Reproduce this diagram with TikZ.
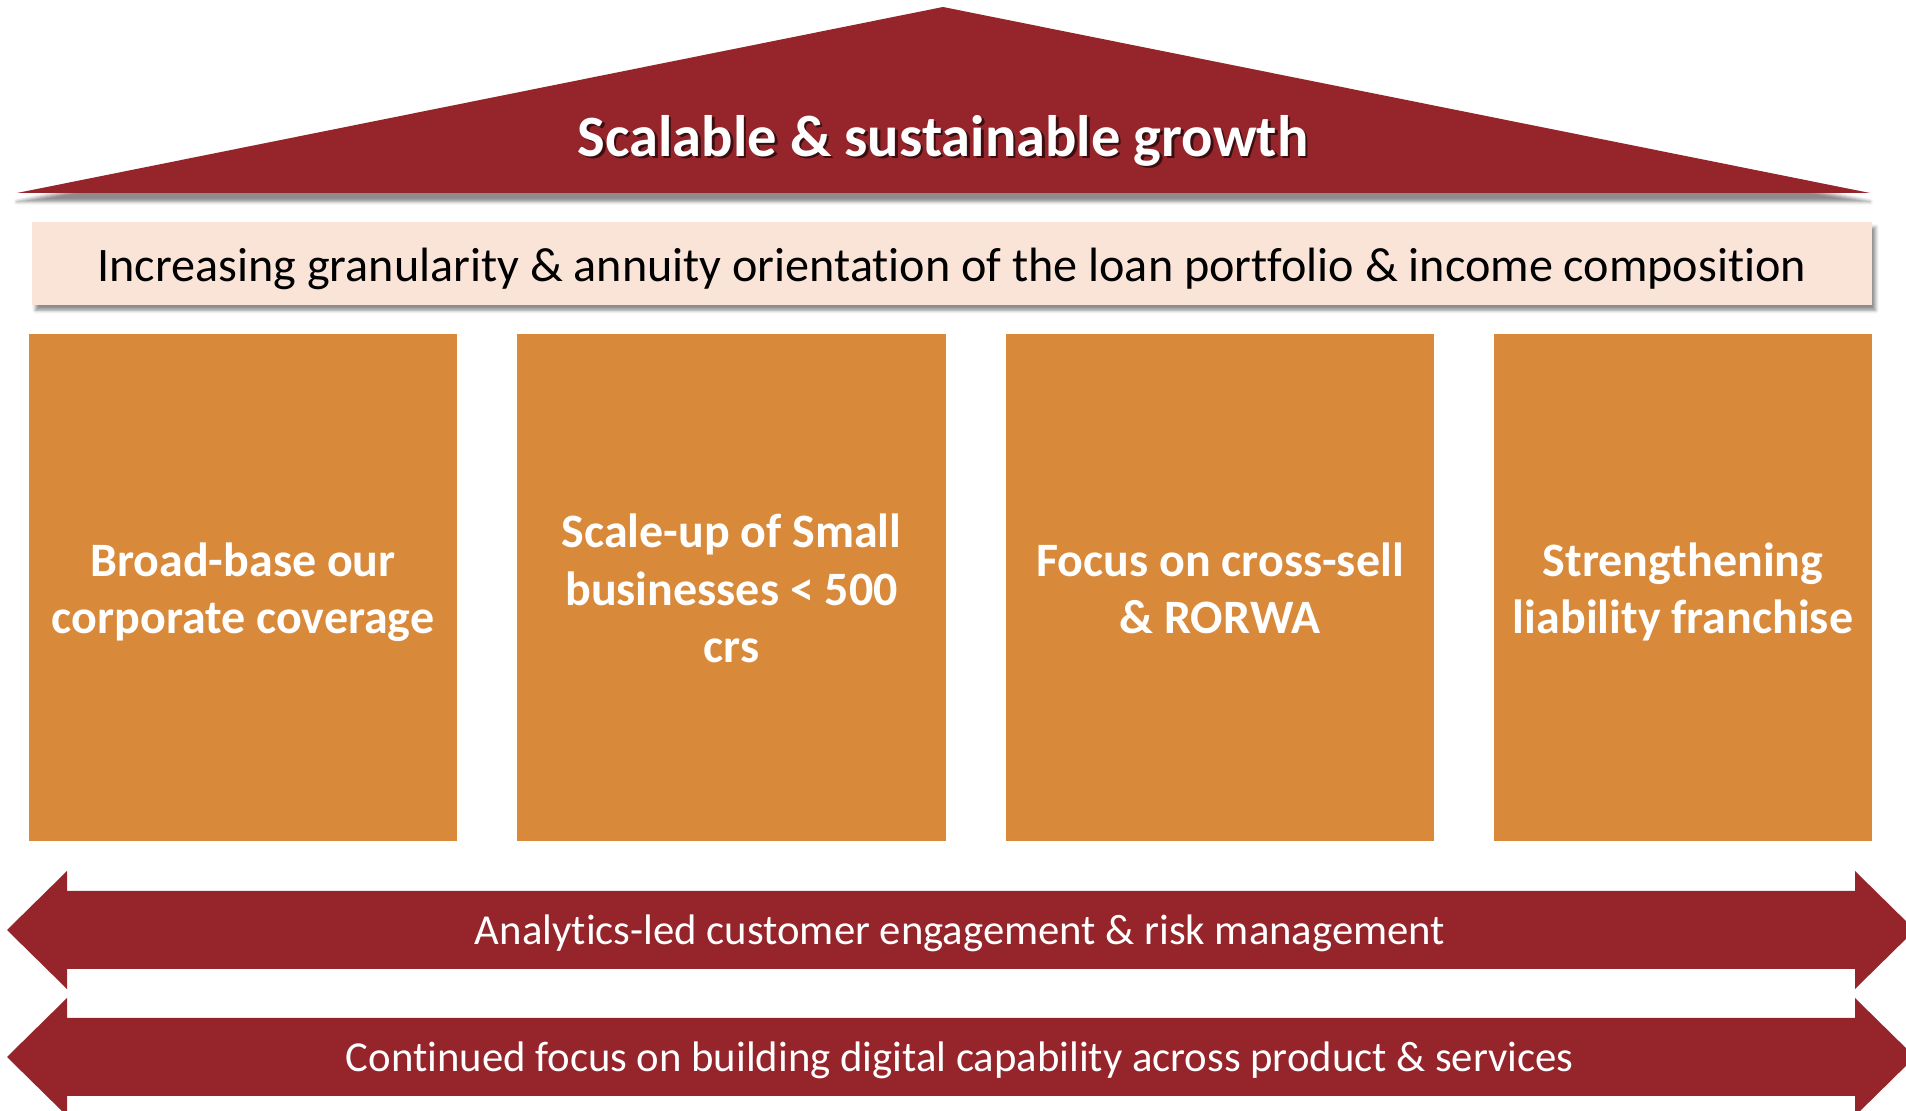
\documentclass[tikz,border=0pt]{standalone}
\usepackage{fontspec}
\setmainfont{Carlito}[Ligatures=NoCommon]
\usetikzlibrary{positioning,shadows.blur}
\definecolor{roofred}{RGB}{149,37,43}
\definecolor{pillarorange}{RGB}{216,137,58}
\definecolor{bandpink}{RGB}{250,228,216}
\tikzstyle{pillar} = [fill=pillarorange, minimum height=10.14cm, inner sep=0pt]
\tikzstyle{pillartext} = [text=white, font=\fontsize{27.3}{32.6}\selectfont\bfseries, align=center, inner sep=0pt]
\tikzstyle{arrowtext} = [text=white, font=\fontsize{24.3}{29}\selectfont]

\begin{document}
\begin{tikzpicture}
\useasboundingbox (0,0) rectangle (38.12,22.22);
% roof
\fill[roofred, blur shadow={shadow xshift=0pt, shadow yshift=-5pt, shadow opacity=45}] (0.34,18.36) -- (18.86,22.08) -- (37.4,18.36) -- cycle;
\node[text=black, opacity=0.6, font=\fontsize{33.3}{40}\selectfont\bfseries] (titleshade) at (18.91,19.36) {Scalable \& sustainable growth};
\node[text=white, font=\fontsize{33.3}{40}\selectfont\bfseries] (title) at (18.86,19.41) {Scalable \& sustainable growth};

% band under the roof
\node[fill=bandpink, minimum width=36.8cm, minimum height=1.66cm, inner sep=0pt, text height=20pt, text depth=0pt, font=\fontsize{27.4}{32}\selectfont, blur shadow={shadow xshift=2pt, shadow yshift=-3pt, shadow opacity=45}] (band) at (19.04,16.95) {Increasing granularity \& annuity orientation of the loan portfolio \& income composition};

% pillars
\node[pillar, minimum width=8.56cm] (broad) at (4.86,10.47) {};
\node[pillar, minimum width=8.58cm] (small) at (14.63,10.47) {};
\node[pillar, minimum width=8.56cm] (cross) at (24.40,10.47) {};
\node[pillar, minimum width=7.56cm] (liab) at (33.66,10.47) {};
\node[pillartext] (broadtext) at ([yshift=-3.5pt]broad.center) {\strut Broad-base our\\corporate coverage\strut};
\node[pillartext] (smalltext) at ([yshift=-3.5pt]small.center) {\strut Scale-up of Small\\businesses < 500\\crs\strut};
\node[pillartext] (crosstext) at ([yshift=-3.5pt]cross.center) {\strut Focus on cross-sell\\\& RORWA\strut};
\node[pillartext] (liabtext) at ([yshift=-3.5pt]liab.center) {\strut Strengthening\\liability franchise\strut};

% double arrows at the base
\fill[roofred] (0.14,3.62) -- (1.34,4.80) -- (1.34,4.40) -- (37.1,4.40) -- (37.1,4.80) -- (38.3,3.62) -- (37.1,2.44) -- (37.1,2.84) -- (1.34,2.84) -- (1.34,2.44) -- cycle;
\node[arrowtext] (analytics) at (19.2,3.55) {Analytics-led customer engagement \& risk management};
\fill[roofred] (0.14,1.08) -- (1.34,2.26) -- (1.34,1.86) -- (37.1,1.86) -- (37.1,2.26) -- (38.3,1.08) -- (37.1,-0.10) -- (37.1,0.30) -- (1.34,0.30) -- (1.34,-0.10) -- cycle;
\node[arrowtext] (digital) at (19.2,1.01) {Continued focus on building digital capability across product \& services};
\end{tikzpicture}
\end{document}
